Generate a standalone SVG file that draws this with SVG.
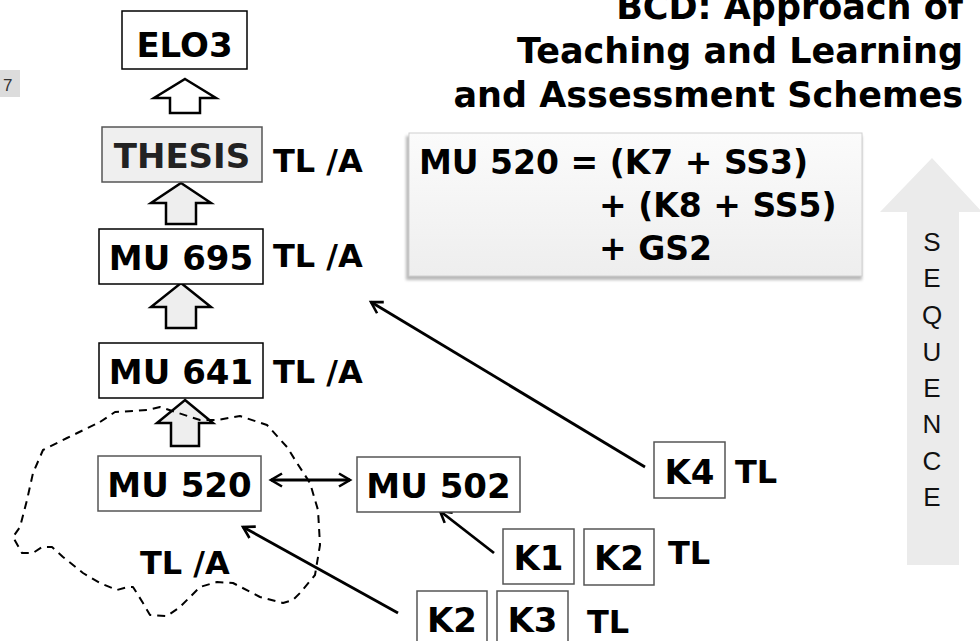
<svg xmlns="http://www.w3.org/2000/svg" width="980" height="641" viewBox="0 0 980 641">
  <style>
    .b { font-family: "DejaVu Sans", Verdana, sans-serif; font-weight: bold; fill: #000; }
    .node { font-size: 34px; text-anchor: middle; }
    .lbl { font-size: 32px; }
    .title { font-size: 35px; text-anchor: end; }
    .eq { font-size: 33px; }
    .box { fill: #fff; stroke: #000; stroke-width: 1.5; }
    .up { stroke: #000; stroke-width: 2.5; stroke-linejoin: miter; }
    .link { fill: none; stroke: #000; stroke-width: 2.8; }
    .seq { font-family: "Liberation Sans", Arial, sans-serif; font-size: 26px; fill: #111; text-anchor: middle; }
  </style>
  <defs>
    <marker id="open" viewBox="0 0 16 16" refX="13" refY="8" markerWidth="16" markerHeight="16" markerUnits="userSpaceOnUse" orient="auto-start-reverse">
      <path d="M2,1.5 L13,8 L2,14.5" fill="none" stroke="#000" stroke-width="2.6"/>
    </marker>
    <linearGradient id="eqFill" x1="0" y1="0" x2="0" y2="1">
      <stop offset="0" stop-color="#fbfbfb"/>
      <stop offset="1" stop-color="#eeeeee"/>
    </linearGradient>
    <filter id="soft" x="-5%" y="-5%" width="110%" height="115%">
      <feGaussianBlur stdDeviation="1.5"/>
    </filter>
  </defs>

  <!-- page number tab -->
  <g id="page-tab">
    <rect x="0" y="70" width="20" height="27" fill="#dcdcdc"/>
    <text x="3" y="91" font-family="Liberation Sans, Arial, sans-serif" font-size="17" fill="#333">7</text>
  </g>

  <!-- heading -->
  <g id="heading" class="b title">
    <text x="963" y="19">BCD: Approach of</text>
    <text x="963" y="63">Teaching and Learning</text>
    <text x="963" y="107">and Assessment Schemes</text>
  </g>

  <!-- module formula -->
  <g id="formula">
    <rect x="406" y="136" width="456" height="144" fill="#b8b8b8" filter="url(#soft)"/>
    <rect x="409" y="133" width="453" height="143" fill="url(#eqFill)" stroke="#d0d0d0" stroke-width="1"/>
    <text class="b eq" x="419" y="174">MU 520 = (K7 + SS3)</text>
    <text class="b eq" x="599" y="217">+ (K8 + SS5)</text>
    <text class="b eq" x="599" y="260">+ GS2</text>
  </g>

  <!-- sequence arrow -->
  <g id="sequence">
    <path d="M932,158 L982,212 L959,212 L959,565 L907,565 L907,212 L880,212 Z" fill="#ebebeb"/>
    <text class="seq" x="932" y="251">S</text>
    <text class="seq" x="932" y="287">E</text>
    <text class="seq" x="932" y="324">Q</text>
    <text class="seq" x="932" y="361">U</text>
    <text class="seq" x="932" y="397">E</text>
    <text class="seq" x="932" y="433">N</text>
    <text class="seq" x="932" y="470">C</text>
    <text class="seq" x="932" y="506">E</text>
  </g>

  <!-- progression arrows between levels -->
  <g id="progression">
    <path class="up" fill="#fff" d="M185,79 L216,98 L200,98 L200,113 L170,113 L170,98 L154,98 Z"/>
    <path class="up" fill="#eeeeee" d="M181,183 L211,203 L196,203 L196,224 L166,224 L166,203 L151,203 Z"/>
    <path class="up" fill="#eeeeee" d="M181,283 L211,307 L196,307 L196,328 L166,328 L166,307 L151,307 Z"/>
    <path class="up" fill="#eeeeee" d="M185,400 L213,423 L199,423 L199,446 L171,446 L171,423 L157,423 Z"/>
  </g>

  <!-- dashed grouping around MU 520 -->
  <g id="group-outline">
    <path fill="none" stroke="#000" stroke-width="2" stroke-dasharray="8,6" stroke-linejoin="round"
      d="M100,422 L115,412 L147,410 L160,407 L200,420 L217,420 L240,416 L267,425 L287,447 L297,463 L310,483 L318,510 L320,545 L315,575 L300,593 L293,600 L283,603 L260,597 L233,583 L217,582 L200,587 L180,607 L167,616 L150,615 L143,603 L133,587 L128,587 L117,590 L100,583 L83,573 L63,557 L52,547 L42,547 L33,553 L22,553 L13,537 L20,527 L27,500 L33,473 L43,450 L67,438 Z"/>
    <text class="b lbl" x="140" y="574">TL /A</text>
  </g>

  <!-- connectors -->
  <g id="connectors">
    <line class="link" x1="645" y1="467" x2="371" y2="302" marker-end="url(#open)"/>
    <line class="link" x1="494" y1="553" x2="440" y2="511" marker-end="url(#open)"/>
    <line class="link" x1="398" y1="613" x2="243" y2="527" marker-end="url(#open)"/>
    <line class="link" x1="271" y1="480" x2="350" y2="480" marker-start="url(#open)" marker-end="url(#open)"/>
  </g>

  <!-- nodes -->
  <g id="elo3">
    <rect class="box" x="122" y="11" width="125" height="58"/>
    <text class="b node" x="184.5" y="57">ELO3</text>
  </g>
  <g id="thesis">
    <rect x="102" y="127" width="160" height="55" fill="#efefef" stroke="#555" stroke-width="1.5"/>
    <text class="b node" x="182" y="168" style="fill:#222">THESIS</text>
    <text class="b lbl" x="273" y="172">TL /A</text>
  </g>
  <g id="mu695">
    <rect class="box" x="99" y="229" width="164" height="55"/>
    <text class="b node" x="181" y="270">MU 695</text>
    <text class="b lbl" x="273" y="267">TL /A</text>
  </g>
  <g id="mu641">
    <rect class="box" x="99" y="343" width="164" height="55"/>
    <text class="b node" x="181" y="384">MU 641</text>
    <text class="b lbl" x="273" y="383">TL /A</text>
  </g>
  <g id="mu520">
    <rect class="box" x="98" y="456" width="163" height="55" style="stroke:#555"/>
    <text class="b node" x="179.5" y="497">MU 520</text>
  </g>
  <g id="mu502">
    <rect class="box" x="357" y="457" width="163" height="55" style="stroke:#555"/>
    <text class="b node" x="438.5" y="498">MU 502</text>
  </g>
  <g id="k4">
    <rect class="box" x="654" y="442" width="71" height="56" style="stroke:#555"/>
    <text class="b node" x="689.5" y="484">K4</text>
    <text class="b lbl" x="735" y="483">TL</text>
  </g>
  <g id="k1">
    <rect class="box" x="503" y="529" width="71" height="55" style="stroke:#555"/>
    <text class="b node" x="538.5" y="570">K1</text>
  </g>
  <g id="k2-upper">
    <rect class="box" x="584" y="529" width="70" height="56" style="stroke:#555"/>
    <text class="b node" x="619" y="570">K2</text>
    <text class="b lbl" x="668" y="564">TL</text>
  </g>
  <g id="k2-lower">
    <rect class="box" x="417" y="591" width="70" height="56" style="stroke:#555"/>
    <text class="b node" x="452" y="632">K2</text>
  </g>
  <g id="k3">
    <rect class="box" x="497" y="591" width="71" height="56" style="stroke:#555"/>
    <text class="b node" x="532.5" y="632">K3</text>
    <text class="b lbl" x="587" y="633">TL</text>
  </g>
</svg>
